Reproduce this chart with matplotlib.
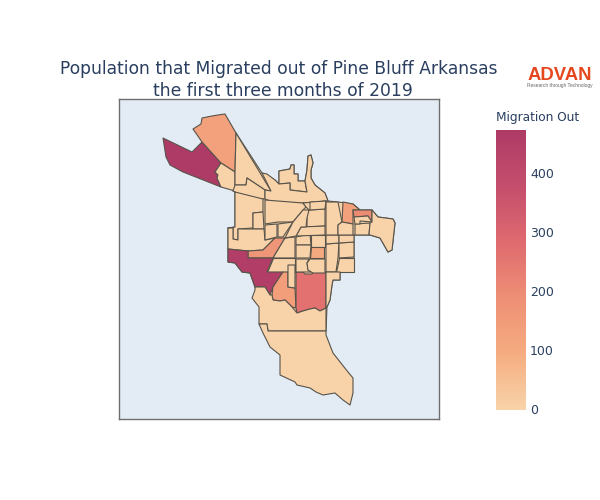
import matplotlib
matplotlib.use("Agg")
import matplotlib.pyplot as plt
from matplotlib.collections import PolyCollection
from matplotlib.colors import LinearSegmentedColormap, Normalize
from matplotlib.cm import ScalarMappable

title_lines = ["Population that Migrated out of Pine Bluff Arkansas", "the first three months of 2019"]
colorbar_title = "Migration Out"
colorbar_ticks = [0, 100, 200, 300, 400]
value_max = 473
logo_name = "ADVAN"
logo_tagline = "Research through Technology"

# Tract outlines in map units, with the migration count of each tract.
# The first outline is the city boundary, which the tracts sit on.
tract_outlines = [
    [(235,172),(236,133),(262,173),(275,180),(279,184),(279,171),(290,169),(291,165),(294,165),(294,174),(298,174),(298,181),(305,181),(307,170),(308,156),(311,155),(313,163),(311,170),(311,178),(315,185),(325,193),(328,201),(338,202),(353,204),(360,210),(372,210),(378,217),(393,219),(395,223),(392,250),(388,252),(380,238),(370,235),(354,235),(354,272),(340,272),(340,280),(333,280),(332,285),(330,300),(327,307),(326,331),(268,331),(255,287),(250,273),(242,272),(235,263),(228,262),(228,228),(235,227),(235,192),(233,191),(235,185)],
    [(163,138),(192,152),(202,142),(221,163),(215,172),(218,175),(217,178),(221,187),(183,172),(170,165),(166,157)],
    [(193,129),(201,124),(202,118),(207,117),(212,116),(218,115),(225,114),(236,133),(235,172),(221,163),(202,142)],
    [(221,163),(235,172),(235,191),(221,187),(217,178),(218,175),(215,172)],
    [(236,133),(271,191),(265,190),(247,178),(246,185),(235,185),(235,172)],
    [(235,185),(246,185),(247,178),(265,190),(265,199),(247,198),(233,191)],
    [(279,171),(290,169),(291,165),(294,165),(294,174),(298,174),(298,181),(305,181),(307,192),(290,190),(290,183),(279,184)],
    [(262,173),(267,174),(275,180),(279,184),(290,183),(290,190),(307,192),(305,181),(307,170),(308,156),(311,155),(313,163),(311,170),(311,178),(315,185),(325,193),(328,201),(303,203),(273,202),(265,199),(265,190),(271,191)],
    [(235,192),(263,199),(263,212),(253,213),(253,228),(238,229),(238,240),(233,239),(233,228),(228,228),(235,227)],
    [(253,213),(263,212),(264,229),(253,229)],
    [(228,228),(233,228),(233,239),(238,240),(238,229),(253,229),(264,229),(265,240),(275,238),(263,250),(248,251),(228,249)],
    [(265,200),(303,203),(306,207),(303,210),(293,222),(278,222),(265,224)],
    [(265,225),(277,224),(277,237),(265,240)],
    [(278,224),(293,222),(283,237),(278,237)],
    [(248,251),(263,250),(275,238),(285,238),(273,258),(248,258)],
    [(285,238),(295,237),(295,258),(273,258)],
    [(273,258),(295,258),(295,272),(288,272),(267,272)],
    [(228,249),(248,251),(248,258),(273,258),(267,272),(283,272),(273,287),(270,295),(265,287),(255,287),(250,273),(242,272),(235,263),(228,262)],
    [(283,272),(288,272),(288,287),(295,288),(296,308),(292,307),(285,300),(280,301),(273,300),(272,295),(273,287)],
    [(288,265),(295,265),(295,288),(288,287)],
    [(296,272),(303,272),(305,274),(312,274),(313,272),(326,272),(326,308),(320,311),(315,308),(310,309),(303,311),(297,313),(296,308)],
    [(296,237),(310,234),(311,245),(296,245)],
    [(296,245),(311,245),(310,258),(296,258)],
    [(311,235),(325,235),(325,247),(311,247)],
    [(311,247),(324,247),(324,258),(310,258)],
    [(296,259),(309,259),(307,263),(308,270),(313,272),(305,272),(296,272)],
    [(310,259),(325,259),(325,273),(313,273),(308,270),(307,263)],
    [(326,244),(339,243),(338,258),(336,272),(326,272)],
    [(339,243),(354,242),(354,257),(339,258)],
    [(339,258),(354,258),(354,272),(336,272)],
    [(326,235),(339,235),(339,243),(326,244)],
    [(339,235),(354,235),(354,242),(339,243)],
    [(326,272),(340,272),(340,280),(333,280),(332,285),(330,300),(327,307),(326,307)],
    [(303,203),(326,201),(326,208),(309,210),(306,207)],
    [(309,210),(325,209),(325,226),(307,227),(307,218),(305,218)],
    [(301,227),(325,226),(325,235),(296,236)],
    [(303,210),(309,210),(307,218),(306,227),(301,227),(296,236),(285,238),(293,222)],
    [(310,202),(326,201),(325,209),(310,210)],
    [(326,202),(338,202),(342,222),(338,225),(338,235),(326,235)],
    [(343,202),(353,204),(360,210),(353,210),(353,224),(342,222)],
    [(338,225),(342,222),(353,224),(353,235),(338,235)],
    [(355,224),(370,223),(369,235),(355,235)],
    [(353,210),(372,210),(372,222),(368,216),(354,217)],
    [(354,217),(368,216),(372,222),(360,221),(360,224),(355,224)],
    [(372,210),(378,217),(393,219),(395,223),(392,250),(388,252),(380,238),(370,235),(369,235),(370,223),(372,222)],
    [(255,287),(265,287),(270,295),(272,295),(273,300),(280,301),(285,300),(292,307),(297,313),(303,311),(310,309),(315,308),(320,311),(326,308),(326,331),(268,331),(267,324),(259,324),(259,307),(252,298),(255,290)],
    [(259,324),(267,324),(268,331),(326,331),(326,335),(333,353),(348,372),(353,378),(353,393),(350,405),(343,400),(335,393),(329,394),(323,395),(316,392),(310,388),(297,385),(295,382),(280,375),(280,355),(270,347),(263,333)],
]
tract_values = [
    0,
    470, 130, 0, 0, 0, 0, 0, 0, 0, 0,
    0, 0, 0, 165, 0, 0, 455, 140, 0, 265,
    0, 0, 0, 105, 0, 0, 0, 0, 0, 0,
    0, 0, 0, 0, 0, 0, 0, 0, 130, 0,
    0, 200, 0, 0, 0, 0,
]

cmap = LinearSegmentedColormap.from_list("migration", [
    (0.0, "#F8D3A9"), (0.2, "#F5AC80"), (0.4, "#EE8F75"),
    (0.6, "#DF6A6F"), (0.8, "#C44E6C"), (1.0, "#AE3B66"),
])
norm = Normalize(0, value_max)
ink = "#2A3F5F"

plt.rcParams["font.family"] = "DejaVu Sans"
fig = plt.figure(figsize=(6, 5), dpi=100)
ax = fig.add_axes([119/600, 81/500, 320/600, 320/500])
ax.set_xlim(119, 439)
ax.set_ylim(419, 99)
ax.set_facecolor("#E3ECF5")
ax.set_xticks([])
ax.set_yticks([])
for s in ax.spines.values():
    s.set_color("#6E6E6E")
    s.set_linewidth(1.0)

tracts = PolyCollection(tract_outlines, array=tract_values, cmap=cmap, norm=norm,
                        edgecolors="#57534A", linewidths=0.8, joinstyle="round")
ax.add_collection(tracts)

fig.text(279/600, 1-69/500, title_lines[0], fontsize=12.37, color=ink, ha="center", va="center")
fig.text(283/600, 1-91/500, title_lines[1], fontsize=12.37, color=ink, ha="center", va="center")

cax = fig.add_axes([496/600, 1-409.5/500, 30/600, 279.5/500])
cb = fig.colorbar(ScalarMappable(norm=norm, cmap=cmap), cax=cax)
cb.outline.set_visible(False)
cb.set_ticks(colorbar_ticks)
cb.ax.tick_params(length=0, pad=3, labelsize=9, labelcolor=ink)
fig.text(496/600, 1-118/500, colorbar_title, fontsize=8.7, color=ink, ha="left", va="center")

fig.text(560/600, 1-75/500, logo_name, fontsize=13.3, color="#E5481E", ha="center", va="center",
         family="Liberation Sans", weight="bold")
fig.text(560/600, 1-86/500, logo_tagline, fontsize=3.5, color="#666666", ha="center", va="center",
         family="Liberation Sans")

fig.savefig("out.png", dpi=100)
